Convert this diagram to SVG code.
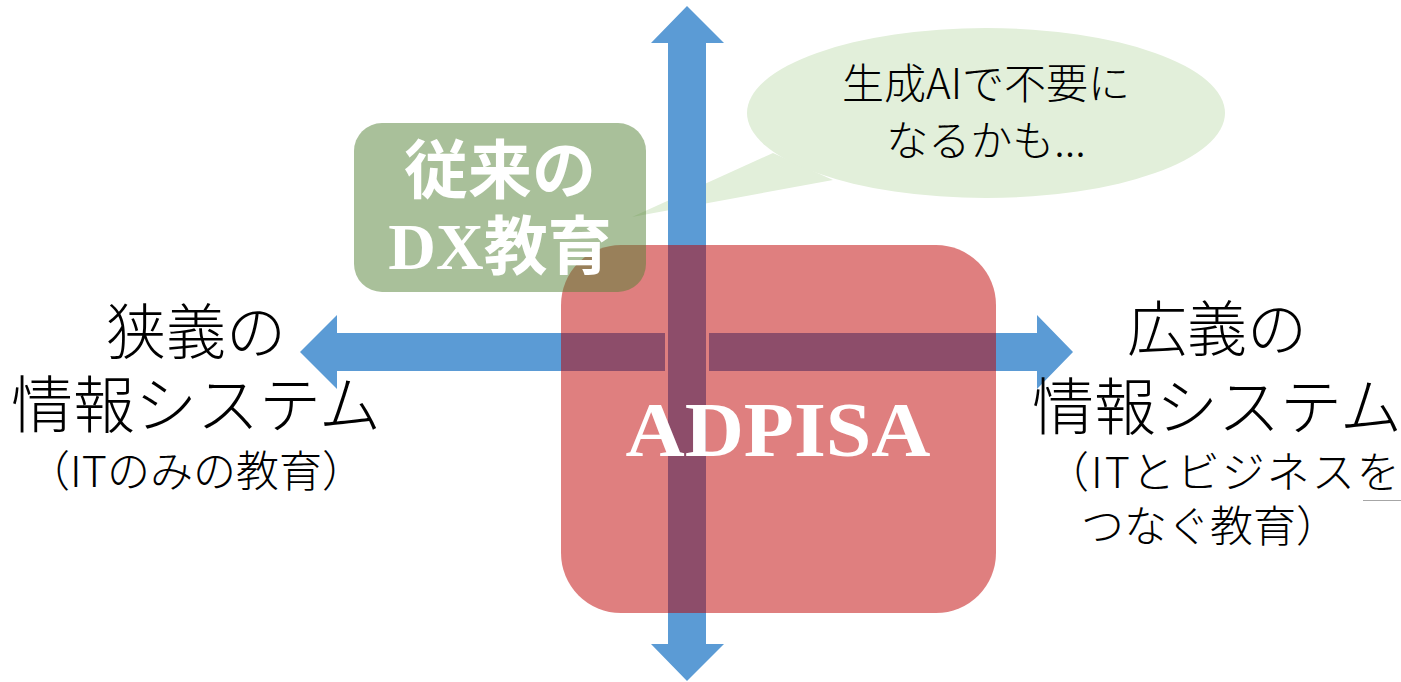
<svg xmlns="http://www.w3.org/2000/svg" width="1401" height="682" viewBox="0 0 1401 682">
<style>
.ax{fill:#5B9BD5}
.jp{font-family:"Noto Sans CJK JP","Noto Sans",sans-serif;font-weight:300;fill:#000}
.wb{font-family:"Noto Sans CJK JP",sans-serif;font-weight:bold;fill:#fff}
.sf{font-family:"Liberation Serif",serif;font-weight:bold;fill:#fff}
</style>
<rect width="1401" height="682" fill="#fff"/>
<g id="bubble">
<path d="M773,153 L632,217 L833,180 Z" fill="#E2EFDA"/>
<ellipse cx="986" cy="113" rx="239" ry="85" fill="#E2EFDA"/>
</g>
<g id="connectors">
<polygon class="ax" points="300,352 337,315 337,333 1037,333 1037,315 1073,352 1037,389 1037,371 337,371 337,389"/>
<rect x="665" y="330" width="44" height="44" fill="#fff"/>
<polygon class="ax" points="687,6 724,43 706,43 706,644 724,644 687,681 651,644 668,644 668,43 651,43"/>
</g>
<g id="adpisa">
<rect x="561" y="245" width="435" height="368" rx="60" ry="60" fill="#C00000" fill-opacity="0.5"/>
</g>
<g id="dx">
<rect x="354" y="123" width="292" height="169" rx="28" ry="28" fill="#548235" fill-opacity="0.5"/>
</g>
<g id="labels">
<text class="jp" x="986" y="99" font-size="42" text-anchor="middle">生成AIで不要に</text>
<text class="jp" x="986" y="156" font-size="42" text-anchor="middle">なるかも...</text>
<text class="wb" x="500" y="193" font-size="64" text-anchor="middle">従来の</text>
<text x="500" y="269" text-anchor="middle"><tspan class="sf" font-size="66">DX</tspan><tspan class="wb" font-size="64">教育</tspan></text>
<text class="sf" x="778" y="456" font-size="78" text-anchor="middle" textLength="305" lengthAdjust="spacingAndGlyphs">ADPISA</text>
<text class="jp" x="196" y="354" font-size="60" text-anchor="middle">狭義の</text>
<text class="jp" x="196" y="428" font-size="62" text-anchor="middle">情報システム</text>
<text class="jp" x="196" y="487" font-size="43" text-anchor="middle">（ITのみの教育）</text>
<text class="jp" x="1217" y="351" font-size="60" text-anchor="middle">広義の</text>
<text class="jp" x="1217" y="430" font-size="62" text-anchor="middle">情報システム</text>
<text class="jp" x="1046" y="488" font-size="43" letter-spacing="2">（ITとビジネスを</text>
<text class="jp" x="1081" y="542" font-size="43">つなぐ教育）</text>
<line x1="1363" y1="500.5" x2="1401" y2="500.5" stroke="#A6A6A6" stroke-width="1"/>
</g>
</svg>
